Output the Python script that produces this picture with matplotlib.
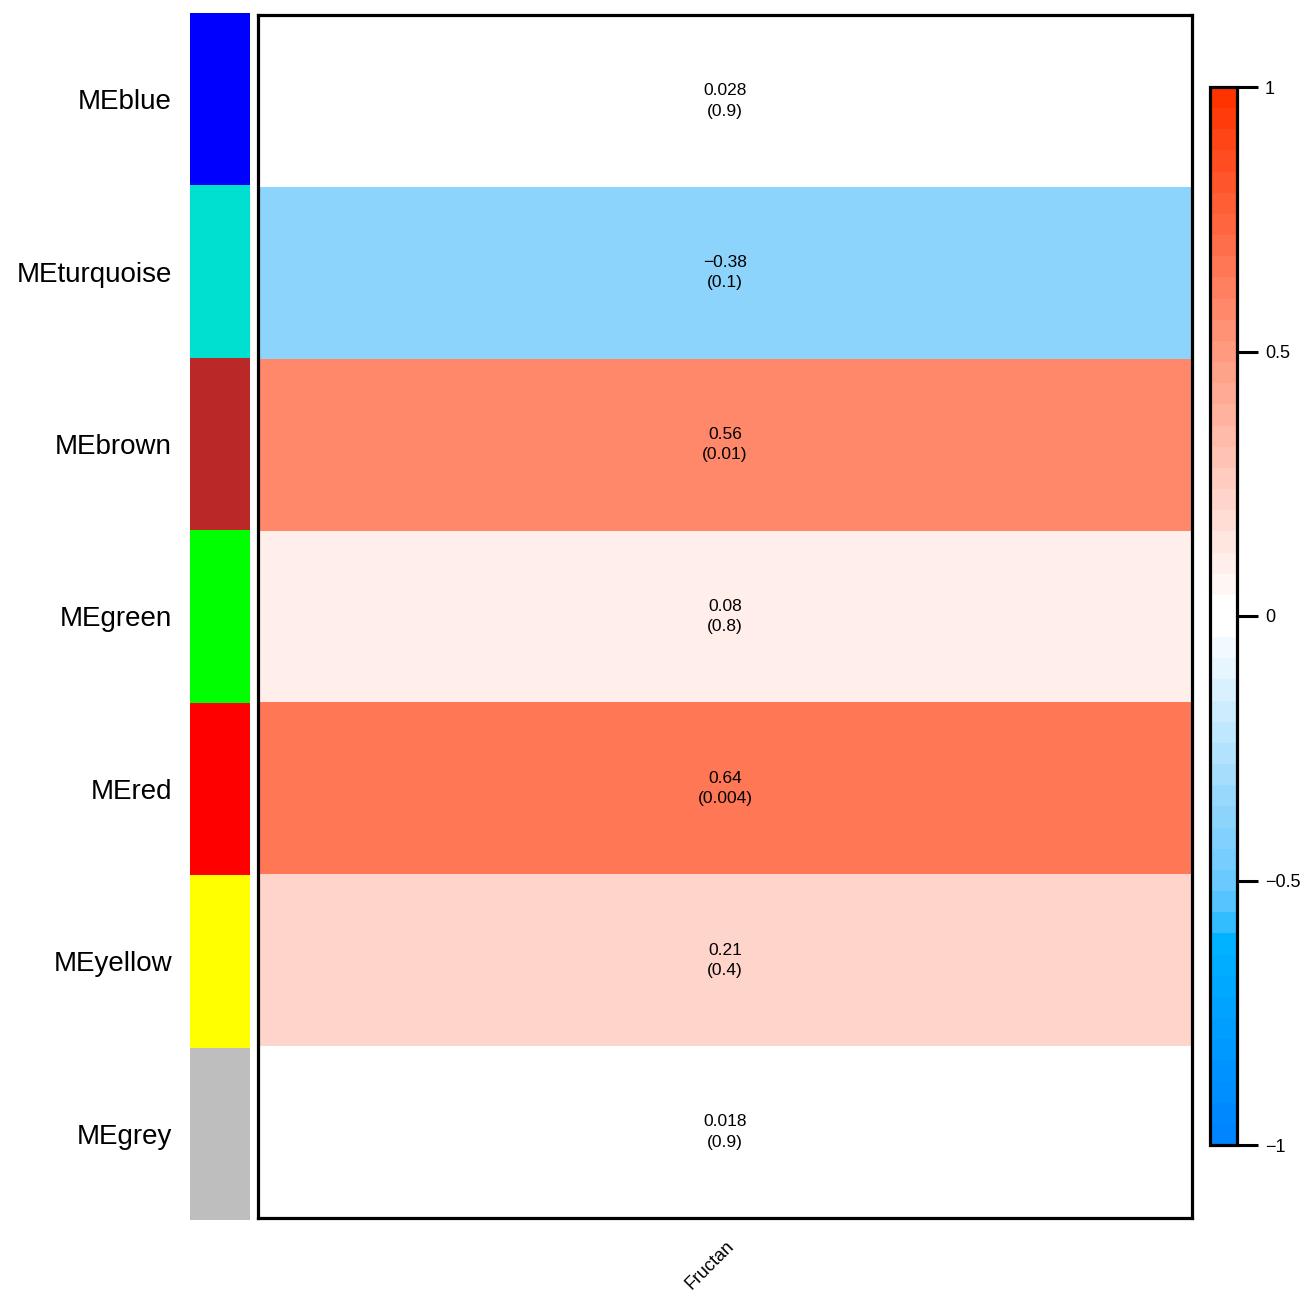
import matplotlib
matplotlib.use("Agg")
import matplotlib.pyplot as plt
import numpy as np
from matplotlib.colors import ListedColormap, Normalize, LinearSegmentedColormap
from matplotlib.patches import Rectangle

# Module eigengene / trait correlations
modules = ["MEblue", "MEturquoise", "MEbrown", "MEgreen", "MEred", "MEyellow", "MEgrey"]
module_colors = ["#0000FF", "#00E0D0", "#BB2828", "#00FF00", "#FF0000", "#FFFF00", "#BEBEBE"]
traits = ["Fructan"]
cor_values = [0.028, -0.38, 0.56, 0.08, 0.64, 0.21, 0.018]
p_values = [0.9, 0.1, 0.01, 0.8, 0.004, 0.4, 0.9]
cbar_ticks = [-1, -0.5, 0, 0.5, 1]
cbar_ticklabels = ["\u22121", "\u22120.5", "0", "0.5", "1"]

plt.rcParams["font.family"] = ["Liberation Sans", "DejaVu Sans"]

# 50-step blue-white-red palette (two middle steps white)
half = 25
frac = np.arange(half) / (half - 1)
blue_side = LinearSegmentedColormap.from_list(
    "blue_side",
    [(0.0, (1, 1, 1)), (0.375, (0.55, 0.83, 0.99)), (0.5, (0.42, 0.79, 1.0)),
     (0.58, (0.25, 0.75, 1.0)), (0.6, (0.0, 0.71, 1.0)), (1.0, (0.0, 0.52, 1.0))])
red_end = np.array([1.0, 0.2, 0.0])
blues = [blue_side(f)[:3] for f in frac[::-1]]
reds = [tuple(1 - f * (1 - red_end)) for f in frac]
cmap = ListedColormap(blues + reds)
norm = Normalize(vmin=-1, vmax=1)

W, H = 1309, 1290
fig = plt.figure(figsize=(W / 100, H / 100), dpi=100)

def fig_axes(x0, y0, x1, y1):
    return fig.add_axes([x0 / W, 1 - y1 / H, (x1 - x0) / W, (y1 - y0) / H])

# Heatmap
ax = fig_axes(258, 15, 1192, 1218)
data = np.array(cor_values).reshape(-1, 1)
ax.pcolormesh(np.arange(len(traits) + 1), np.arange(len(modules) + 1), data,
              cmap=cmap, norm=norm)
ax.set_xlim(0, len(traits))
ax.set_ylim(len(modules), 0)
for i, (r, p) in enumerate(zip(cor_values, p_values)):
    txt = f"{r:.2g}".replace("-", "\u2212") + "\n(" + f"{p:.1g}" + ")"
    ax.text(0.5, i + 0.5, txt, ha="center", va="center", fontsize=12.5,
            linespacing=1.45, color="black")
for s in ax.spines.values():
    s.set_linewidth(2.3)
ax.set_yticks([])
ax.set_xticks([0.5])
ax.set_xticklabels(traits, rotation=45, ha="right", va="top",
                   rotation_mode="anchor", fontsize=13)
ax.tick_params(axis="x", length=0, pad=14)

# Module colour side bar
axs = fig_axes(190, 13, 250, 1220)
axs.set_xlim(0, 1)
axs.set_ylim(len(modules), 0)
for i, c in enumerate(module_colors):
    axs.add_patch(Rectangle((0, i), 1, 1, facecolor=c, edgecolor="none"))
axs.set_xticks([])
axs.set_yticks(np.arange(len(modules)) + 0.5)
axs.set_yticklabels(modules, fontsize=20)
axs.tick_params(axis="y", length=0, pad=13)
for s in axs.spines.values():
    s.set_visible(False)

# Colour scale
cax = fig_axes(1210, 87, 1237, 1145)
sm = matplotlib.cm.ScalarMappable(norm=norm, cmap=cmap)
cb = fig.colorbar(sm, cax=cax, ticks=cbar_ticks)
cb.ax.set_yticklabels(cbar_ticklabels, fontsize=13)
cb.outline.set_linewidth(2.3)
cb.ax.tick_params(length=15, width=2.2, pad=5)

fig.savefig("out.png", dpi=100, facecolor="white")
